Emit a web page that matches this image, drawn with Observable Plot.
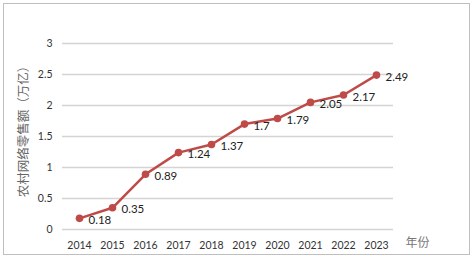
<!DOCTYPE html>
<html><head><meta charset="utf-8">
<script src="https://cdn.jsdelivr.net/npm/d3@7"></script>
<script src="https://cdn.jsdelivr.net/npm/@observablehq/plot@0.6"></script>
<style>
body{margin:0;background:#fff;}
#wrap{position:relative;width:472px;height:259px;}
#border{position:absolute;left:3px;top:3px;width:465px;height:250px;border:1px solid #bfbfbf;pointer-events:none;}
</style></head><body>
<div id="wrap"><div id="border"></div></div>
<script>
const years = ["2014","2015","2016","2017","2018","2019","2020","2021","2022","2023"];
const sales = [0.18,0.35,0.89,1.24,1.37,1.7,1.79,2.05,2.17,2.49];
const yTicks = [0,0.5,1,1.5,2,2.5,3];
const yTitle = "农村网络零售额（万亿）";
const xTitle = "年份";

const data = years.map((y,i)=>({year:y, value:sales[i]}));
const red = "#be4b48";

const chart = Plot.plot({
  width: 472, height: 259,
  marginLeft: 62, marginRight: 79, marginTop: 43, marginBottom: 30,
  style: {fontFamily: "Lato, 'Noto Sans', sans-serif", fontSize: "10.5px", color: "#333", background: "transparent"},
  x: {type: "point", domain: years, padding: 0.5},
  y: {domain: [0,3]},
  marks: [
    Plot.gridY(yTicks, {stroke: "#d4d4d4", strokeOpacity: 1, strokeWidth: 1.5}),
    Plot.axisY(yTicks, {tickSize: 0, tickPadding: 10, tickFormat: d => String(d), label: null, fontSize: 10.5}),
    Plot.axisX({tickSize: 0, tickPadding: 12, label: null, fontSize: 10.5}),
    Plot.text([yTitle], {frameAnchor: "left", textAnchor: "middle", lineAnchor: "middle", rotate: -90, dx: -39, dy: -8, fill: "#666", fontSize: 12.5, fontFamily: "'Noto Sans CJK SC', sans-serif"}),
    Plot.text([xTitle], {frameAnchor: "bottom-right", textAnchor: "start", lineAnchor: "middle", dx: 12, dy: 14, fill: "#777", fontSize: 12, fontFamily: "'Noto Sans CJK SC', sans-serif"}),
    Plot.line(data, {x: "year", y: "value", stroke: red, strokeWidth: 2.5}),
    Plot.dot(data, {x: "year", y: "value", fill: red, r: 3.8}),
    Plot.text(data, {x: "year", y: "value", text: d => String(d.value), textAnchor: "start", dx: 9, dy: 2, fill: "#222", fontSize: 11.5})
  ]
});
document.getElementById("wrap").prepend(chart);
</script>
</body></html>
